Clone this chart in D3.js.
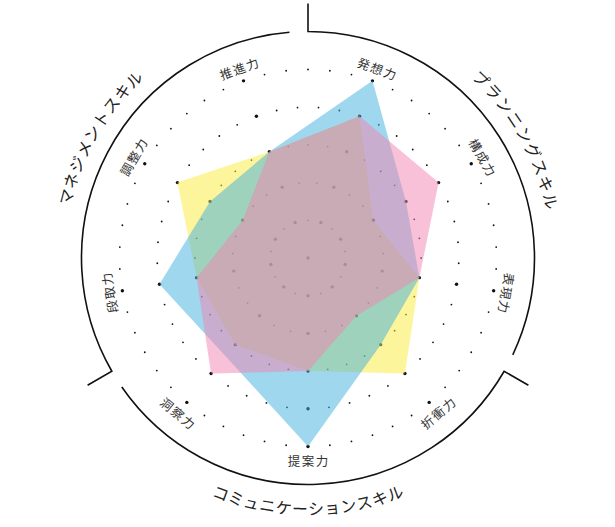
<!DOCTYPE html>
<html><head><meta charset="utf-8">
<script src="https://cdn.jsdelivr.net/npm/d3@7"></script>
<style>
html,body{margin:0;padding:0;background:#fff;}
svg{display:block;}
text{font-family:"Noto Sans CJK JP","Noto Sans",sans-serif;}
</style></head>
<body>
<svg id="chart" width="615" height="527"></svg>
<script>
// ---- data ----
const axes = ["発想力","構成力","表現力","折衝力","提案力","洞察力","段取力","調整力","推進力"];
const levels = [1,2,3,4,5];
const seriesYellow = [4, 2, 3, 4, 3, 3, 3, 4, 3];
const seriesBlue   = [5, 3, 3, 3, 5, 3.4, 4, 3, 3];
const seriesPink   = [4, 4, 3, 2, 3, 4, 3, 2, 3];
const groups = ["プランニングスキル","コミュニケーションスキル","マネジメントスキル"];

// ---- layout ----
const W = 615, H = 527, cx = 308, cy = 258;
const rMax = 188.5, ringR = 226.5, labelR = 202, groupR = 250;
const startDeg = 20, sector = 360 / axes.length;
const rad = d => d * Math.PI / 180;
const r = d3.scaleLinear().domain([0, 5]).range([0, rMax]);
const axisAngle = i => startDeg + i * sector;

const svg = d3.select("#chart");
const g = svg.append("g").attr("transform", `translate(${cx},${cy})`);
const pt = (deg, rr) => [rr * Math.sin(rad(deg)), -rr * Math.cos(rad(deg))];

// ---- grid dots ----
const dots = [{deg:0, r:0, axis:true}];
levels.forEach(k => {
  const n = k + 1;
  for (let j = 0; j < axes.length * n; j++) {
    dots.push({deg: startDeg + j * sector / n, r: r(k), axis: j % n === 0});
  }
});
g.append("g").selectAll("circle").data(dots).join("circle")
  .attr("cx", d => pt(d.deg, d.r)[0])
  .attr("cy", d => pt(d.deg, d.r)[1])
  .attr("r", d => d.axis ? 1.7 : 0.9)
  .attr("fill", "#111");

// ---- series polygons ----
const line = d3.lineRadial()
  .angle((d, i) => rad(axisAngle(i)))
  .radius(d => r(d))
  .curve(d3.curveLinearClosed);
const series = [
  {vals: seriesYellow, color: "rgb(251,236,55)"},
  {vals: seriesBlue,   color: "rgb(64,176,224)"},
  {vals: seriesPink,   color: "rgb(244,132,176)"}
];
g.append("g").selectAll("path").data(series).join("path")
  .attr("d", d => line(d.vals))
  .attr("fill", d => d.color)
  .attr("fill-opacity", 0.5)
  .attr("stroke", "none");

// ---- axis labels ----
axes.forEach((name, i) => {
  const a = axisAngle(i);
  const flip = Math.cos(rad(a)) < -0.5;
  const rot = flip ? a - 180 : a;
  const [x0, y0] = pt(a, labelR);
  const chars = Array.from(name);
  const step = 14;
  chars.forEach((ch, k) => {
    const off = (k - (chars.length - 1) / 2) * step;
    const x = x0 + off * Math.cos(rad(rot));
    const y = y0 + off * Math.sin(rad(rot));
    g.append("text")
      .attr("x", x).attr("y", y)
      .attr("transform", `rotate(${rot},${x},${y})`)
      .attr("text-anchor", "middle")
      .attr("dominant-baseline", "central")
      .attr("font-size", 12.5)
      .attr("fill", "#333")
      .text(ch);
  });
});

// ---- outer arcs with separators ----
const groupStart = [0, 120, 240];
const arcSpan = 115.3;
groupStart.forEach(s => {
  const p = d3.path();
  const [ax, ay] = pt(s, ringR + 28);
  const [bx, by] = pt(s, ringR);
  p.moveTo(ax, ay);
  p.lineTo(bx, by);
  p.arc(0, 0, ringR, rad(s - 90), rad(s + arcSpan - 90), false);
  g.append("path").attr("d", p.toString())
    .attr("fill", "none").attr("stroke", "#111").attr("stroke-width", 1.6);
});

// ---- group labels along the ring ----
const groupCenter = [60.4, 180, -60];
const groupStep = [4.1, 3.7, 3.95];
groups.forEach((name, gi) => {
  const chars = Array.from(name);
  const c = groupCenter[gi];
  const flip = Math.cos(rad(c)) < -0.5;
  chars.forEach((ch, k) => {
    const off = (k - (chars.length - 1) / 2) * groupStep[gi];
    const a = flip ? c - off : c + off;
    const rot = flip ? a - 180 : a;
    const [x, y] = pt(a, groupR);
    g.append("text")
      .attr("x", x).attr("y", y)
      .attr("transform", `rotate(${rot},${x},${y})`)
      .attr("text-anchor", "middle")
      .attr("dominant-baseline", "central")
      .attr("font-size", 16)
      .attr("fill", "#222")
      .text(ch);
  });
});
</script>
</body></html>
